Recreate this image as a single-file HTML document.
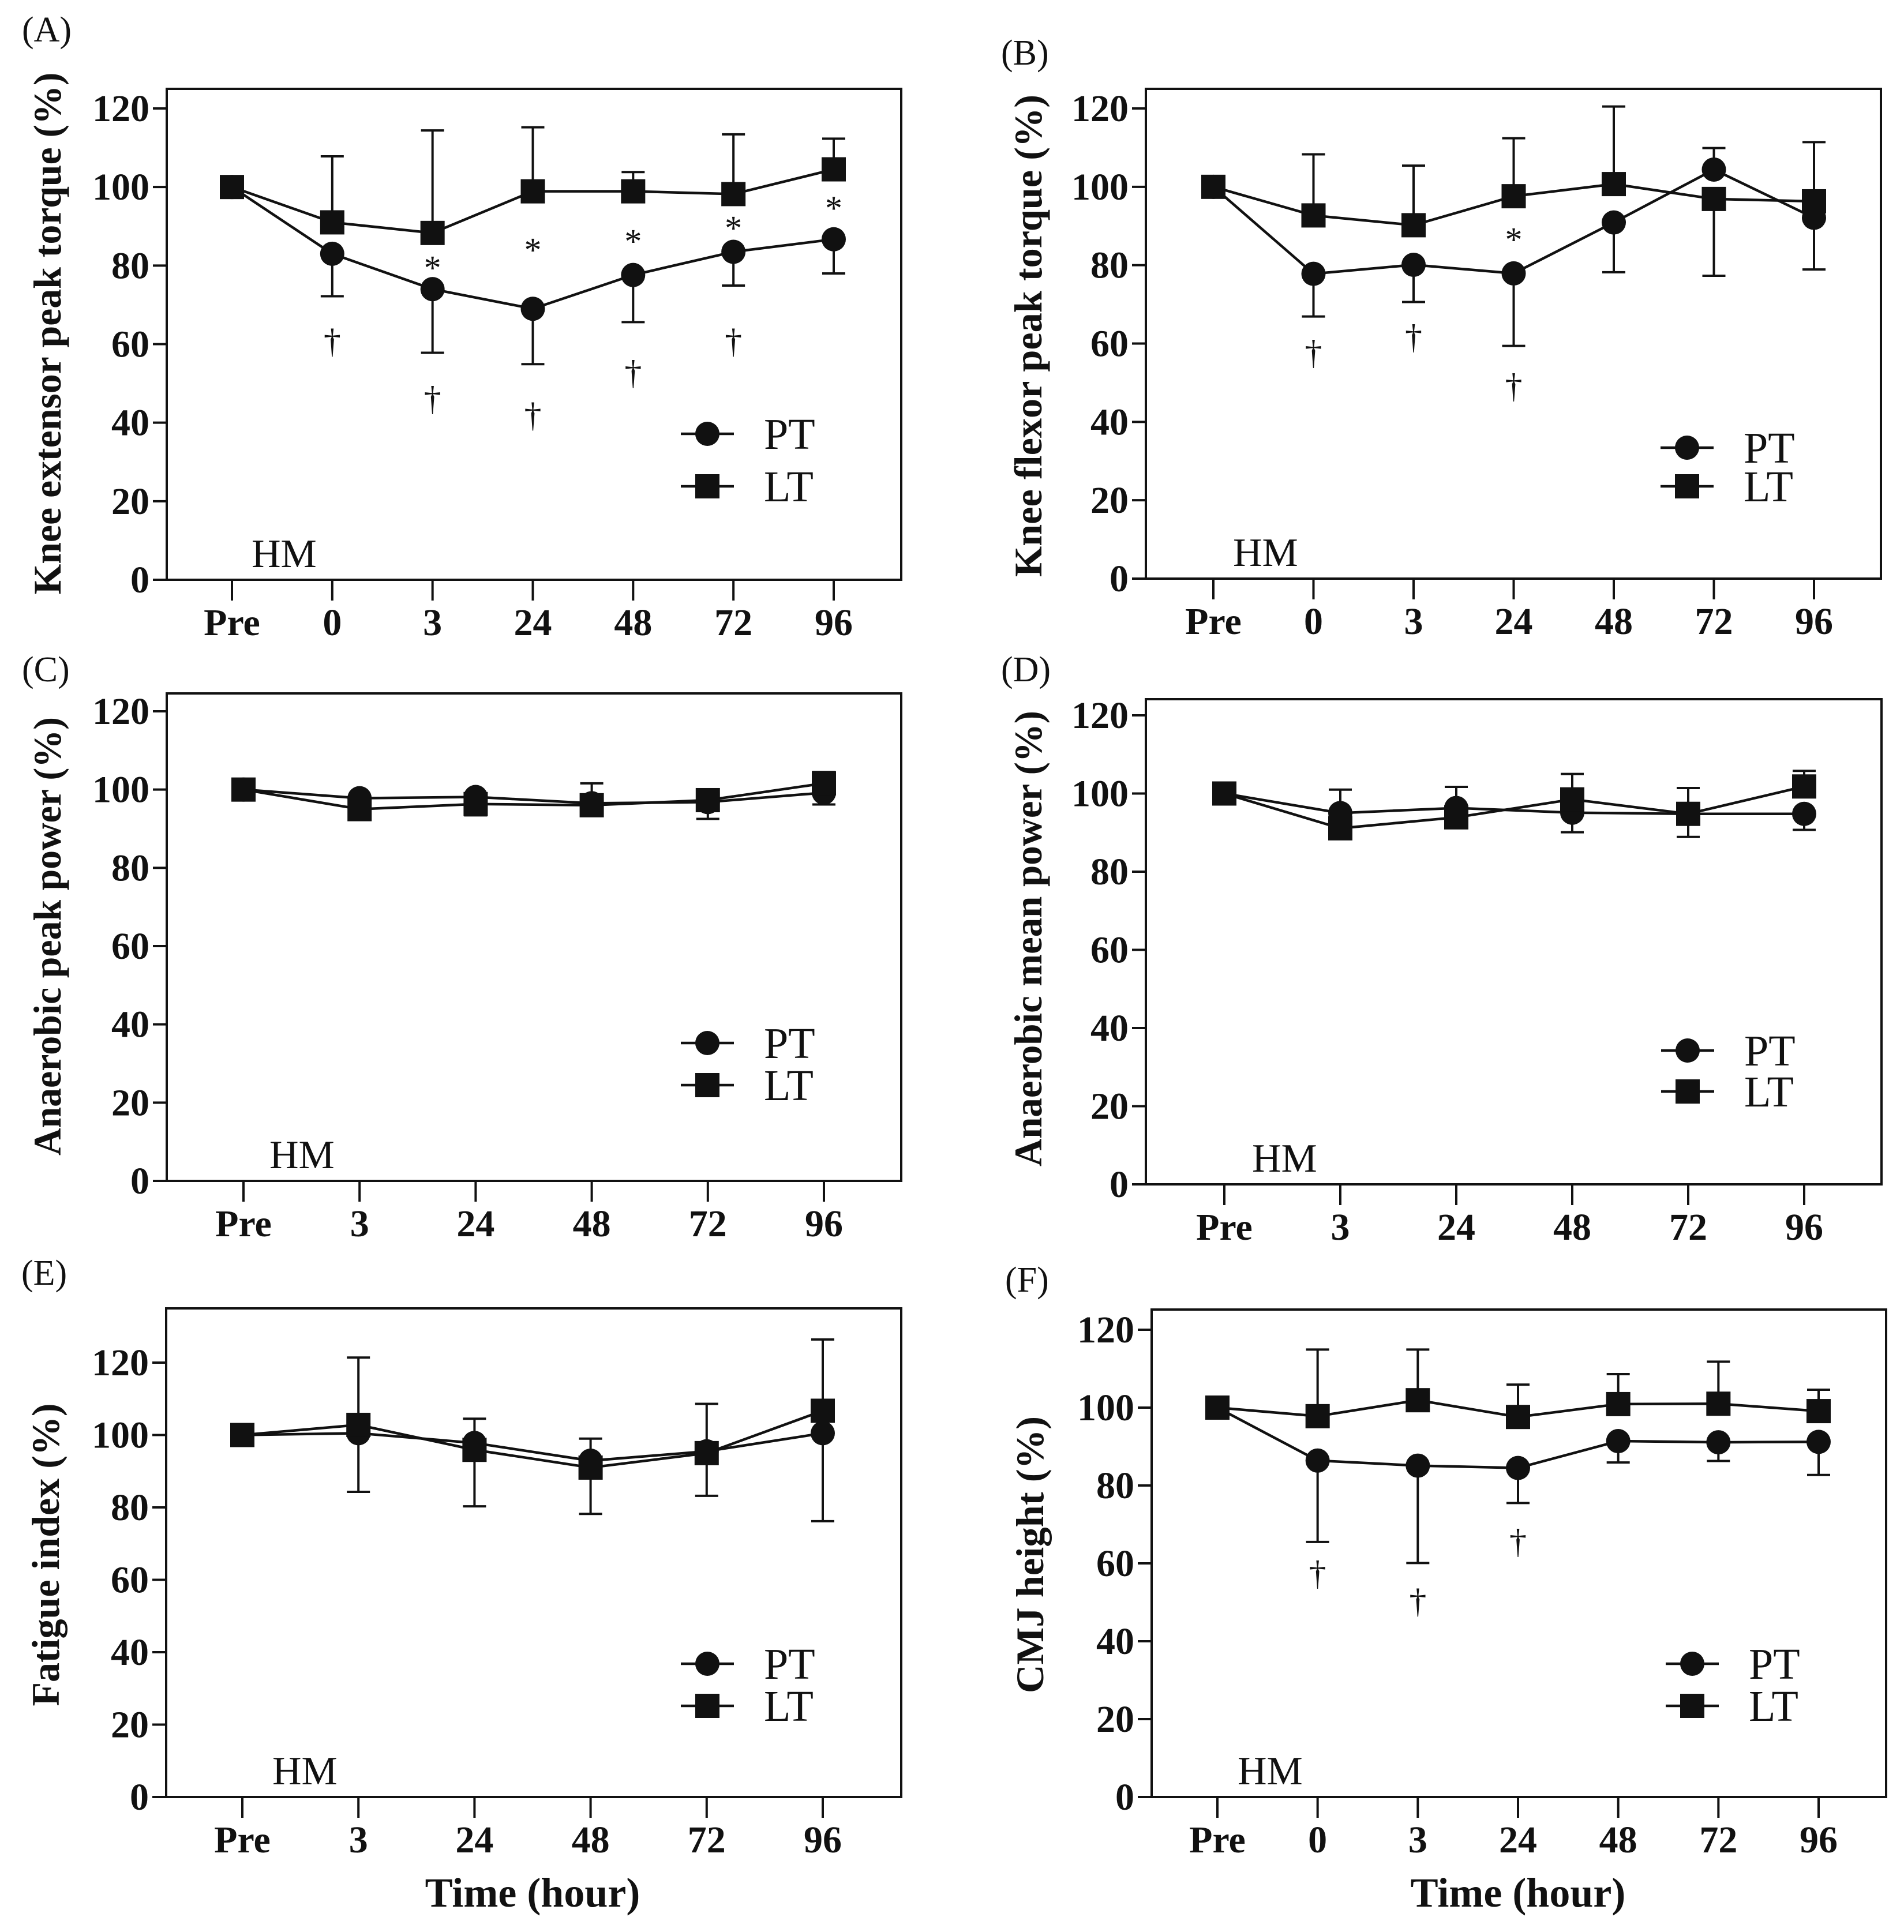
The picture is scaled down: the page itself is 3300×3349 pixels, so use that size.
<!DOCTYPE html>
<html><head><meta charset="utf-8">
<style>
html,body{margin:0;padding:0;background:#fff;}
svg{display:block;}
text{font-family:"Liberation Serif","Times New Roman",serif;fill:#111;}
</style></head>
<body>
<svg id="fig" width="3300" height="3349" viewBox="0 0 3300 3349" xmlns="http://www.w3.org/2000/svg">
<rect x="0" y="0" width="3300" height="3349" fill="#fff"/>
</svg>
<script>
// ---------- categories ----------
const catsLong = ["Pre","0","3","24","48","72","96"];
const catsShort = ["Pre","3","24","48","72","96"];
const yTicks = [0,20,40,60,80,100,120];
const yTickLabels = ["0","20","40","60","80","100","120"];

// ---------- Panel A: knee extensor ----------
const A_pt = [100,83,74,69,77.6,83.5,86.7];
const A_ptLo = [null,72.2,57.8,54.9,65.6,74.9,78];
const A_ptHi = [null,null,null,null,null,null,null];
const A_lt = [100,91,88.3,98.9,98.9,98.2,104.5];
const A_ltHi = [null,107.8,114.4,115.2,103.8,113.4,112.3];
const A_ltLo = [null,null,null,null,null,null,null];
const A_star = [null,null,80.3,84.8,87,90.4,95.5];
const A_dagger = [null,61,46.4,42.2,53,61,null];

// ---------- Panel B: knee flexor ----------
const B_pt = [100,77.8,80.1,77.9,90.9,104.4,92.1];
const B_ptLo = [null,66.9,70.6,59.4,78.2,null,78.9];
const B_ptHi = [null,null,null,null,null,109.9,null];
const B_lt = [100,92.7,90.2,97.6,100.7,96.9,96.3];
const B_ltHi = [null,108.3,105.4,112.4,120.5,null,111.4];
const B_ltLo = [null,null,null,null,null,77.3,null];
const B_star = [null,null,null,87.4,null,null,null];
const B_dagger = [null,58,62,49.5,null,null,null];

// ---------- Panel C: anaerobic peak power ----------
const C_pt = [100,97.8,98.1,96.5,96.8,99.2];
const C_ptLo = [null,null,null,null,null,96.2];
const C_ptHi = [null,null,null,101.6,null,null];
const C_lt = [100,95.0,96.3,96.0,97.3,101.6];
const C_ltHi = [null,null,null,null,null,104.5];
const C_ltLo = [null,93.1,93.4,null,92.5,null];

// ---------- Panel D: anaerobic mean power ----------
const D_pt = [100,95.0,96.3,95.1,94.8,94.8];
const D_ptLo = [null,null,null,90.1,88.9,90.7];
const D_ptHi = [null,101,101.7,null,null,null];
const D_lt = [100,91.1,93.9,98.5,94.8,101.8];
const D_ltHi = [null,null,null,105,101.4,105.8];
const D_ltLo = [null,null,null,null,null,null];

// ---------- Panel E: fatigue index ----------
const E_pt = [100,100.5,97.8,92.9,95.5,100.5];
const E_ptLo = [null,84.3,null,null,null,76.2];
const E_ptHi = [null,null,104.5,99,108.6,null];
const E_lt = [100,102.8,95.9,91.0,95.0,106.7];
const E_ltHi = [null,121.4,null,null,null,126.4];
const E_ltLo = [null,null,80.3,78.2,83.2,null];

// ---------- Panel F: CMJ height ----------
const F_pt = [100,86.4,85.1,84.5,91.4,91.1,91.2];
const F_ptLo = [null,65.5,60.1,75.5,85.9,86.3,82.7];
const F_ptHi = [null,null,null,null,null,null,null];
const F_lt = [100,97.8,101.9,97.6,100.9,101,99.1];
const F_ltHi = [null,114.9,114.9,105.9,108.6,111.8,104.6];
const F_ltLo = [null,null,null,null,null,null,null];
const F_dagger = [null,57.8,50.6,65.9,null,null,null];

const NS = "http://www.w3.org/2000/svg";
const svg = document.getElementById('fig');
function mk(tag, attrs, parent){
  const e = document.createElementNS(NS, tag);
  for (const k in attrs) e.setAttribute(k, attrs[k]);
  (parent||svg).appendChild(e);
  return e;
}

const panels = [
 {id:'a', tag:'(A)', tagX:38, tagY:72, L:289, R:1562, T:154, y0:1005, y120:188, x0:402, x1:1445, cats:catsLong,
  title:'Knee extensor peak torque (%)', tX:82, tY:578, tLen:905,
  pt:A_pt, ptLo:A_ptLo, ptHi:A_ptHi, lt:A_lt, ltLo:A_ltLo, ltHi:A_ltHi, star:A_star, dagger:A_dagger,
  hmDx:34, legPT:752, legLT:843, xTitle:false},
 {id:'b', tag:'(B)', tagX:1735, tagY:112, L:1986, R:3260, T:154, y0:1003, y120:188, x0:2103, x1:3144, cats:catsLong,
  title:'Knee flexor peak torque (%)', tX:1782, tY:582, tLen:836,
  pt:B_pt, ptLo:B_ptLo, ptHi:B_ptHi, lt:B_lt, ltLo:B_ltLo, ltHi:B_ltHi, star:B_star, dagger:B_dagger,
  hmDx:34, legPT:776, legLT:843, xTitle:false},
 {id:'c', tag:'(C)', tagX:38, tagY:1181, L:289, R:1562, T:1202, y0:2047, y120:1233, x0:422, x1:1428, cats:catsShort,
  title:'Anaerobic peak power (%)', tX:82, tY:1623, tLen:760,
  pt:C_pt, ptLo:C_ptLo, ptHi:C_ptHi, lt:C_lt, ltLo:C_ltLo, ltHi:C_ltHi, star:null, dagger:null,
  hmDx:45, legPT:1808, legLT:1881, xTitle:false},
 {id:'d', tag:'(D)', tagX:1735, tagY:1181, L:1986, R:3261, T:1212, y0:2053, y120:1240, x0:2122, x1:3127, cats:catsShort,
  title:'Anaerobic mean power (%)', tX:1782, tY:1627, tLen:790,
  pt:D_pt, ptLo:D_ptLo, ptHi:D_ptHi, lt:D_lt, ltLo:D_ltLo, ltHi:D_ltHi, star:null, dagger:null,
  hmDx:48, legPT:1821, legLT:1892, xTitle:false},
 {id:'e', tag:'(E)', tagX:37, tagY:2227, L:288, R:1562, T:2268, y0:3115, y120:2362, x0:420, x1:1426, cats:catsShort,
  title:'Fatigue index (%)', tX:79, tY:2695, tLen:525,
  pt:E_pt, ptLo:E_ptLo, ptHi:E_ptHi, lt:E_lt, ltLo:E_ltLo, ltHi:E_ltHi, star:null, dagger:null,
  hmDx:52, legPT:2884, legLT:2957, xTitle:true},
 {id:'f', tag:'(F)', tagX:1742, tagY:2239, L:1996, R:3269, T:2270, y0:3115, y120:2305, x0:2110, x1:3152, cats:catsLong,
  title:'CMJ height (%)', tX:1785, tY:2695, tLen:480,
  pt:F_pt, ptLo:F_ptLo, ptHi:F_ptHi, lt:F_lt, ltLo:F_ltLo, ltHi:F_ltHi, star:null, dagger:F_dagger,
  hmDx:35, legPT:2884, legLT:2957, xTitle:true}
];

function drawPanel(p){
  const g = mk('g', {});
  
  
  const yS = v => p.y0 + (p.y120 - p.y0) * v / 120;
  const n = p.cats.length;
  const xS = i => p.x0 + (p.x1 - p.x0) * i / (n - 1);

  const tg = mk('text', {x:p.tagX, y:p.tagY, 'font-size':62}, g);
  tg.textContent = p.tag;
  
  

  const fr = mk('rect', {x:p.L, y:p.T, width:p.R-p.L, height:p.y0-p.T, fill:'none', stroke:'#111', 'stroke-width':4}, g);
  
  

  yTicks.forEach((t, k) => {
    const y = yS(t);
    const tl = mk('line', {x1:p.L-24, x2:p.L, y1:y, y2:y, stroke:'#111', 'stroke-width':4}, g);
    
    
    const tx = mk('text', {x:p.L-30, y:y+22, 'font-size':66, 'font-weight':'bold', 'text-anchor':'end'}, g);
    tx.textContent = yTickLabels[k];
    
    
  });
  p.cats.forEach((c, i) => {
    const x = xS(i);
    const tl = mk('line', {x1:x, x2:x, y1:p.y0, y2:p.y0+36, stroke:'#111', 'stroke-width':4}, g);
    
    
    const tx = mk('text', {x:x, y:p.y0+96, 'font-size':66, 'font-weight':'bold', 'text-anchor':'middle'}, g);
    tx.textContent = c;
    
    
  });

  const yt = mk('text', {x:0, y:0, 'font-size':68, 'font-weight':'bold', 'text-anchor':'middle', 'dominant-baseline':'central',
    transform:'translate(' + p.tX + ',' + p.tY + ') rotate(-90)', textLength:p.tLen, lengthAdjust:'spacingAndGlyphs'}, g);
  yt.textContent = p.title;
  
  

  if (p.xTitle){
    const xt = mk('text', {x:(p.x0+p.x1)/2, y:3305, 'font-size':72, 'font-weight':'bold', 'text-anchor':'middle'}, g);
    xt.textContent = 'Time (hour)';
    
    
  }

  const hm = mk('text', {x:p.x0 + p.hmDx, y:p.y0 - 22, 'font-size':70}, g);
  hm.textContent = 'HM';
  
  

  function bars(vals, lo, hi, name){
    vals.forEach((v, i) => {
      [lo[i], hi[i]].forEach(e => {
        if (e === null || e === undefined) return;
        const x = xS(i);
        const l = mk('line', {x1:x, x2:x, y1:yS(v), y2:yS(e), stroke:'#111', 'stroke-width':4}, g);
        
        
        const c = mk('line', {x1:x-20, x2:x+20, y1:yS(e), y2:yS(e), stroke:'#111', 'stroke-width':4}, g);
        
        
      });
    });
  }
  bars(p.pt, p.ptLo, p.ptHi, 'pt');
  bars(p.lt, p.ltLo, p.ltHi, 'lt');

  function series(vals, name){
    const pts = vals.map((v, i) => xS(i) + ',' + yS(v)).join(' ');
    const pl = mk('polyline', {points:pts, fill:'none', stroke:'#111', 'stroke-width':4.5}, g);
    
    
  }
  series(p.pt, 'pt');
  series(p.lt, 'lt');

  p.pt.forEach((v, i) => {
    const c = mk('circle', {cx:xS(i), cy:yS(v), r:21, fill:'#111'}, g);
    
    
  });
  p.lt.forEach((v, i) => {
    const s = mk('rect', {x:xS(i)-21, y:yS(v)-21, width:42, height:42, fill:'#111'}, g);
    
    
  });

  if (p.star) p.star.forEach((v, i) => {
    if (v === null) return;
    const t = mk('text', {x:xS(i), y:yS(v)+26, 'font-size':60, 'text-anchor':'middle'}, g);
    t.textContent = '*';
    
    
  });
  if (p.dagger) p.dagger.forEach((v, i) => {
    if (v === null) return;
    const t = mk('text', {x:xS(i), y:yS(v)+22, 'font-size':60, 'text-anchor':'middle'}, g);
    t.textContent = '\u2020';
    
    
  });

  const lx0 = p.R - 382, lx1 = p.R - 290, mx = p.R - 336, tx = p.R - 238;
  [['PT', p.legPT, 'circle'], ['LT', p.legLT, 'square']].forEach(([lab, y, shape]) => {
    const lg = mk('g', {}, g);
    
    
    mk('line', {x1:lx0, x2:lx1, y1:y, y2:y, stroke:'#111', 'stroke-width':4.5}, lg);
    if (shape === 'circle') mk('circle', {cx:mx, cy:y, r:21, fill:'#111'}, lg);
    else mk('rect', {x:mx-21, y:y-21, width:42, height:42, fill:'#111'}, lg);
    const t = mk('text', {x:tx, y:y+26, 'font-size':76}, lg);
    t.textContent = lab;
  });
}
panels.forEach(drawPanel);
</script>
</body></html>
